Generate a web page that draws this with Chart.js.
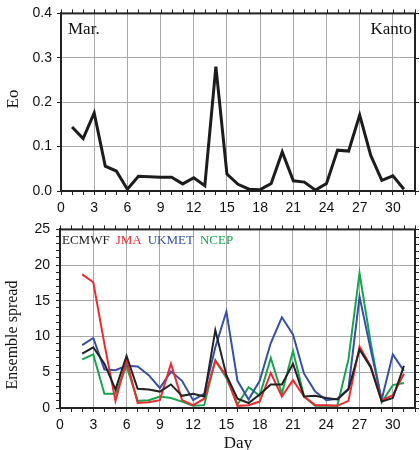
<!DOCTYPE html>
<html>
<head>
<meta charset="utf-8">
<script src="https://cdn.jsdelivr.net/npm/chart.js@4.4.1/dist/chart.umd.min.js"></script>
<style>
html, body { margin: 0; padding: 0; background: #fff; overflow: hidden; }
#wrap { position: relative; width: 420px; height: 450px; overflow: hidden; }
#topBox { position: absolute; left: 0; top: 0; width: 420px; height: 215px; }
#botBox { position: absolute; left: 0; top: 215px; width: 420px; height: 245px; }
</style>
</head>
<body>
<div id="wrap">
  <div id="topBox"><canvas id="eoChart" width="420" height="215"></canvas></div>
  <div id="botBox"><canvas id="spreadChart" width="420" height="245"></canvas></div>
</div>
<script>
// --- data (March, Kanto) ---
const eoDays = [1, 2, 3, 4, 5, 6, 7, 8, 9, 10, 11, 12, 13, 14, 15, 16, 17, 18, 19, 20, 21, 22, 23, 24, 25, 26, 27, 28, 29, 30, 31];
const eoValues = [0.144, 0.118, 0.176, 0.056, 0.045, 0.004, 0.033, 0.032, 0.031, 0.031, 0.016, 0.030, 0.012, 0.280, 0.038, 0.015, 0.004, 0.003, 0.017, 0.088, 0.023, 0.020, 0.002, 0.017, 0.092, 0.090, 0.171, 0.080, 0.024, 0.034, 0.004];

const spreadDays = [2, 3, 4, 5, 6, 7, 8, 9, 10, 11, 12, 13, 14, 15, 16, 17, 18, 19, 20, 21, 22, 23, 24, 25, 26, 27, 28, 29, 30, 31];
const ecmwfSpread = [7.6, 8.5, 6.2, 2.6, 7.3, 2.7, 2.6, 2.3, 3.3, 1.7, 2.0, 1.6, 10.9, 4.6, 1.3, 0.7, 1.9, 3.3, 3.3, 6.2, 1.6, 1.7, 1.4, 1.2, 2.6, 8.2, 5.7, 0.9, 1.4, 5.9];
const jmaSpread   = [18.7, 17.6, 9.0, 1.0, 6.7, 0.7, 0.8, 1.1, 6.2, 1.1, 0.4, 1.3, 6.6, 4.5, 0.3, 0.4, 0.9, 4.9, 1.6, 3.9, 1.6, 0.4, 0.4, 0.3, 1.0, 8.6, 5.9, 1.1, 1.8, 4.8];
const ukmetSpread = [8.8, 9.8, 5.4, 5.3, 5.9, 5.8, 4.6, 2.8, 5.1, 3.8, 1.1, 2.0, 8.5, 13.5, 3.8, 1.2, 3.8, 9.1, 12.7, 10.3, 4.8, 2.3, 1.1, 1.3, 2.7, 15.6, 8.2, 1.2, 7.5, 5.2];
const ncepSpread  = [6.8, 7.5, 2.0, 2.0, 5.9, 1.0, 1.1, 1.6, 1.4, 0.9, 0.3, 0.4, 6.7, 4.2, 0.5, 2.9, 1.7, 7.0, 2.0, 8.0, 1.6, 0.3, 0.3, 0.3, 6.8, 18.9, 9.2, 0.8, 3.2, 3.5];

const dayTicksEvery = 3;
const seriesNames = ['ECMWF', 'JMA', 'UKMET', 'NCEP'];
const seriesColors = ['#222222', '#ec2b30', '#3550aa', '#17a44c'];

Chart.defaults.font.family = '"Liberation Sans", Arial, Helvetica, sans-serif';
Chart.defaults.color = '#111';
Chart.defaults.animation = false;

const toPoints = (xs, ys) => xs.map((d, i) => ({ x: d, y: ys[i] }));
const gridGray = '#a9a9a9';

// frame + mirrored tick marks on the top and right edges
const framePlugin = {
    id: 'frameBox',
    beforeDatasetsDraw(chart) {
        const { ctx, chartArea: { left, right, top, bottom }, scales: { x, y } } = chart;
        ctx.save(); ctx.strokeStyle = '#222'; ctx.lineWidth = 1;
        x.ticks.forEach(t => { const px = Math.round(x.getPixelForValue(t.value)) + 0.5; ctx.beginPath(); ctx.moveTo(px, top); ctx.lineTo(px, top - 4); ctx.stroke(); });
        y.ticks.forEach(t => { const py = Math.round(y.getPixelForValue(t.value)) + 0.5; ctx.beginPath(); ctx.moveTo(right, py); ctx.lineTo(right + 4, py); ctx.stroke(); });
        ctx.lineWidth = 2; ctx.strokeRect(left, top, right - left, bottom - top);
        ctx.restore();
    }
};

// free text: axis titles, panel labels, coloured legend
const textPlugin = {
    id: 'panelText',
    afterDraw(chart, args, opts) {
        const ctx = chart.ctx;
        (opts.items || []).forEach(it => {
            ctx.save(); ctx.font = it.font; ctx.fillStyle = it.color || '#111';
            ctx.textAlign = it.align || 'left'; ctx.textBaseline = 'alphabetic';
            ctx.translate(it.x, it.y); if (it.rotate) ctx.rotate(it.rotate);
            ctx.fillText(it.text, 0, 0); ctx.restore();
        });
        if (opts.legend) {
            const lg = opts.legend; let xPos = chart.chartArea.left + lg.dx;
            ctx.save(); ctx.font = lg.font; ctx.textBaseline = 'alphabetic'; ctx.textAlign = 'left';
            chart.data.datasets.forEach(ds => {
                ctx.fillStyle = ds.borderColor; ctx.fillText(ds.label, xPos, lg.y);
                xPos += ctx.measureText(ds.label).width + lg.gap;
            });
            ctx.restore();
        }
    }
};

const dayAxis = (height, pad) => ({
    type: 'linear', min: 0, max: 32,
    afterFit: s => { s.height = height; },
    afterBuildTicks: s => { s.ticks = Array.from({ length: 33 }, (_, i) => ({ value: i })); },
    ticks: {
        autoSkip: false, maxRotation: 0, padding: pad, font: { size: 14 },
        callback: v => (v % dayTicksEvery === 0 && v <= 30 ? String(v) : '')
    },
    grid: {
        color: c => (c.tick && c.tick.value % dayTicksEvery === 0 && c.tick.value > 0 && c.tick.value < 32 ? gridGray : 'rgba(0,0,0,0)'),
        tickColor: '#222', tickLength: 4, lineWidth: 1
    },
    border: { color: '#222', width: 2 }
});

// ---- top panel: Eo ----
new Chart(document.getElementById('eoChart'), {
    type: 'line',
    data: { datasets: [{ label: 'Eo', data: toPoints(eoDays, eoValues), borderColor: '#1c1c1c', borderWidth: 3, pointRadius: 0, tension: 0, fill: false, borderJoinStyle: 'miter' }] },
    options: {
        responsive: false, devicePixelRatio: 1,
        layout: { padding: { top: 13, right: 3, left: 0, bottom: 0 } },
        scales: {
            x: dayAxis(24, 5),
            y: {
                min: 0, max: 0.4,
                afterFit: s => { s.width = 61; },
                ticks: { stepSize: 0.1, padding: 5, font: { size: 14 }, callback: v => Number(v).toFixed(1) },
                grid: { color: c => (c.tick && c.tick.value > 0 && c.tick.value < 0.4 ? gridGray : 'rgba(0,0,0,0)'), tickColor: '#222', tickLength: 4 },
                border: { color: '#222', width: 2 }
            }
        },
        plugins: {
            legend: { display: false }, tooltip: { enabled: false },
            panelText: {
                items: [
                    { text: 'Eo', x: 18, y: 99, rotate: -Math.PI / 2, align: 'center', font: '17px "Liberation Serif", "Times New Roman", serif' },
                    { text: 'Mar.', x: 68, y: 34, font: '17px "Liberation Serif", "Times New Roman", serif' },
                    { text: 'Kanto', x: 412, y: 34, align: 'right', font: '17px "Liberation Serif", "Times New Roman", serif' }
                ]
            }
        }
    },
    plugins: [framePlugin, textPlugin]
});

// ---- bottom panel: ensemble spread ----
const spreadSeries = [ecmwfSpread, jmaSpread, ukmetSpread, ncepSpread];
new Chart(document.getElementById('spreadChart'), {
    type: 'line',
    data: {
        datasets: spreadSeries.map((vals, i) => ({
            label: seriesNames[i], data: toPoints(spreadDays, vals),
            borderColor: seriesColors[i], borderWidth: 2, pointRadius: 0, tension: 0, fill: false
        }))
    },
    options: {
        responsive: false, devicePixelRatio: 1,
        layout: { padding: { top: 12, right: 3, left: 0, bottom: 0 } },
        scales: {
            x: dayAxis(52, 5),
            y: {
                min: 0, max: 25,
                afterFit: s => { s.width = 60; },
                afterBuildTicks: s => { s.ticks = Array.from({ length: 26 }, (_, i) => ({ value: i })); },
                ticks: { autoSkip: false, padding: 6, font: { size: 14 }, callback: v => (v % 5 === 0 ? String(v) : '') },
                grid: { color: c => (c.tick && c.tick.value % 5 === 0 && c.tick.value > 0 && c.tick.value < 25 ? gridGray : 'rgba(0,0,0,0)'), tickColor: '#222', tickLength: 4 },
                border: { color: '#222', width: 2 }
            }
        },
        plugins: {
            legend: { display: false }, tooltip: { enabled: false },
            panelText: {
                items: [
                    { text: 'Ensemble spread', x: 17, y: 120, rotate: -Math.PI / 2, align: 'center', font: '16px "Liberation Serif", "Times New Roman", serif' },
                    { text: 'Day', x: 238, y: 233, align: 'center', font: '17px "Liberation Serif", "Times New Roman", serif' }
                ],
                legend: { dx: 2, y: 29, gap: 6, font: '13px "Liberation Serif", "Times New Roman", serif' }
            }
        }
    },
    plugins: [framePlugin, textPlugin]
});
</script>
</body>
</html>
